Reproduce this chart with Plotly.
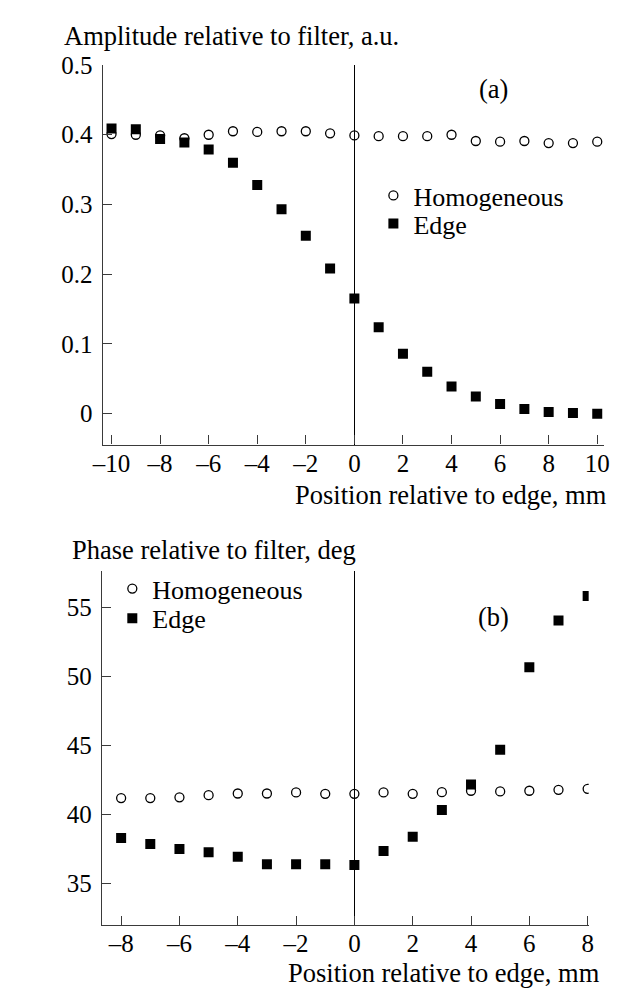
import plotly.graph_objects as go

W, H = 619, 988

# Panel (a): amplitude vs position
pos_a = [-10, -9, -8, -7, -6, -5, -4, -3, -2, -1, 0, 1, 2, 3, 4, 5, 6, 7, 8, 9, 10]
amp_homogeneous = [0.401, 0.400, 0.399, 0.395, 0.400, 0.405, 0.404, 0.405, 0.405, 0.402, 0.399,
                   0.398, 0.398, 0.398, 0.400, 0.391, 0.390, 0.391, 0.388, 0.388, 0.390]
amp_edge = [0.409, 0.408, 0.394, 0.389, 0.379, 0.360, 0.328, 0.293, 0.255, 0.208, 0.165,
            0.124, 0.086, 0.060, 0.039, 0.0245, 0.014, 0.0066, 0.0024, 0.001, 0.0]
ticks_a_x = [-10, -8, -6, -4, -2, 0, 2, 4, 6, 8, 10]
ticks_a_y = [0, 0.1, 0.2, 0.3, 0.4, 0.5]
ticktext_a_y = ["0", "0.1", "0.2", "0.3", "0.4", "0.5"]

# Panel (b): phase vs position
pos_b = [-8, -7, -6, -5, -4, -3, -2, -1, 0, 1, 2, 3, 4, 5, 6, 7, 8]
phase_homogeneous = [41.18, 41.18, 41.23, 41.39, 41.51, 41.51, 41.59, 41.49, 41.49,
                     41.59, 41.49, 41.61, 41.71, 41.66, 41.71, 41.78, 41.85]
phase_edge = [38.27, 37.84, 37.48, 37.25, 36.92, 36.37, 36.37, 36.37, 36.32,
              37.34, 38.37, 40.31, 42.16, 44.69, 50.67, 54.07, 55.86]
ticks_b_x = [-8, -6, -4, -2, 0, 2, 4, 6, 8]
ticks_b_y = [35, 40, 45, 50, 55]

FONT = "Liberation Serif"
AXIS_COLOR = "#3a3a3a"


def px_x(x):
    return x / W


def px_y(y):
    return 1 - y / H


def minus(v):
    s = f"{v:g}"
    return s.replace("-", "\u2013")


fig = go.Figure()

fig.add_trace(go.Scatter(
    x=pos_a, y=amp_homogeneous, mode="markers", name="Homogeneous",
    marker=dict(symbol="circle-open", size=9, color="black", line=dict(width=1.3, color="black")),
    xaxis="x", yaxis="y", legend="legend"))
fig.add_trace(go.Scatter(
    x=pos_a, y=amp_edge, mode="markers", name="Edge",
    marker=dict(symbol="square", size=10, color="black"),
    xaxis="x", yaxis="y", legend="legend2"))
fig.add_trace(go.Scatter(
    x=pos_b, y=phase_homogeneous, mode="markers", name="Homogeneous",
    marker=dict(symbol="circle-open", size=9, color="black", line=dict(width=1.3, color="black")),
    xaxis="x2", yaxis="y2", legend="legend3"))
fig.add_trace(go.Scatter(
    x=pos_b, y=phase_edge, mode="markers", name="Edge",
    marker=dict(symbol="square", size=10, color="black"),
    xaxis="x2", yaxis="y2", legend="legend4"))
fig.update_traces(showlegend=True)

axis_common = dict(
    showline=True, linecolor=AXIS_COLOR, linewidth=1.3,
    ticks="inside", ticklen=9, tickwidth=1.3, tickcolor=AXIS_COLOR,
    showgrid=False, tickfont=dict(family=FONT, size=25, color="black"),
    zeroline=False, fixedrange=True,
)

fig.update_layout(
    width=W, height=H,
    showlegend=True,
    margin=dict(l=0, r=0, t=0, b=0),
    paper_bgcolor="white", plot_bgcolor="white",
    font=dict(family=FONT, size=26, color="black"),
    xaxis=dict(axis_common, domain=[px_x(94), px_x(609)], range=[-10.369, 10.289],
               tickvals=ticks_a_x, ticktext=[minus(v) for v in ticks_a_x],
               anchor="y", zeroline=True, zerolinecolor="black", zerolinewidth=1.3,
               ticklabelstandoff=-4),
    yaxis=dict(axis_common, domain=[px_y(437.3), px_y(52.7)], range=[-0.0443, 0.5],
               tickvals=ticks_a_y, ticktext=ticktext_a_y, anchor="x", ticklabelstandoff=4),
    xaxis2=dict(axis_common, domain=[px_x(93.3), px_x(593)], range=[-8.66, 8.035],
                tickvals=ticks_b_x, ticktext=[minus(v) for v in ticks_b_x],
                anchor="y2", zeroline=True, zerolinecolor="black", zerolinewidth=1.3,
                ticklabelstandoff=-4),
    yaxis2=dict(axis_common, domain=[px_y(924.3), px_y(565)], range=[31.95, 57.7],
                tickvals=ticks_b_y, anchor="x2", ticklabelstandoff=4),
)

legend_common = dict(
    xanchor="left", yanchor="middle", bgcolor="rgba(0,0,0,0)", borderwidth=0,
    font=dict(family=FONT, size=26, color="black"), itemclick=False, itemdoubleclick=False,
)
fig.update_layout(
    legend=dict(legend_common, x=px_x(372), y=px_y(185), visible=True),
    legend2=dict(legend_common, x=px_x(372), y=px_y(213.3)),
    legend3=dict(legend_common, x=px_x(104), y=px_y(583.3)),
    legend4=dict(legend_common, x=px_x(104), y=px_y(613.3)),
)

# Axis titles and panel labels
texts = [
    dict(text="Amplitude relative to filter, a.u.", x=px_x(52.5), y=px_y(23.5), xanchor="left"),
    dict(text="Position relative to edge, mm", x=px_x(614.3), y=px_y(488.4), xanchor="right"),
    dict(text="Phase relative to filter, deg", x=px_x(60.7), y=px_y(543.7), xanchor="left"),
    dict(text="Position relative to edge, mm", x=px_x(606.4), y=px_y(973), xanchor="right"),
]
for t in texts:
    fig.add_annotation(xref="paper", yref="paper", yanchor="middle", showarrow=False,
                       font=dict(family=FONT, size=26.5, color="black"), **t)

fig.add_annotation(text="(a)", x=5.71, y=0.466, xref="x", yref="y", showarrow=False,
                   font=dict(family=FONT, size=26.5, color="black"))
fig.add_annotation(text="(b)", x=4.76, y=54.35, xref="x2", yref="y2", showarrow=False,
                   font=dict(family=FONT, size=26.5, color="black"))

fig.write_html("out.html", config=dict(displayModeBar=False))
